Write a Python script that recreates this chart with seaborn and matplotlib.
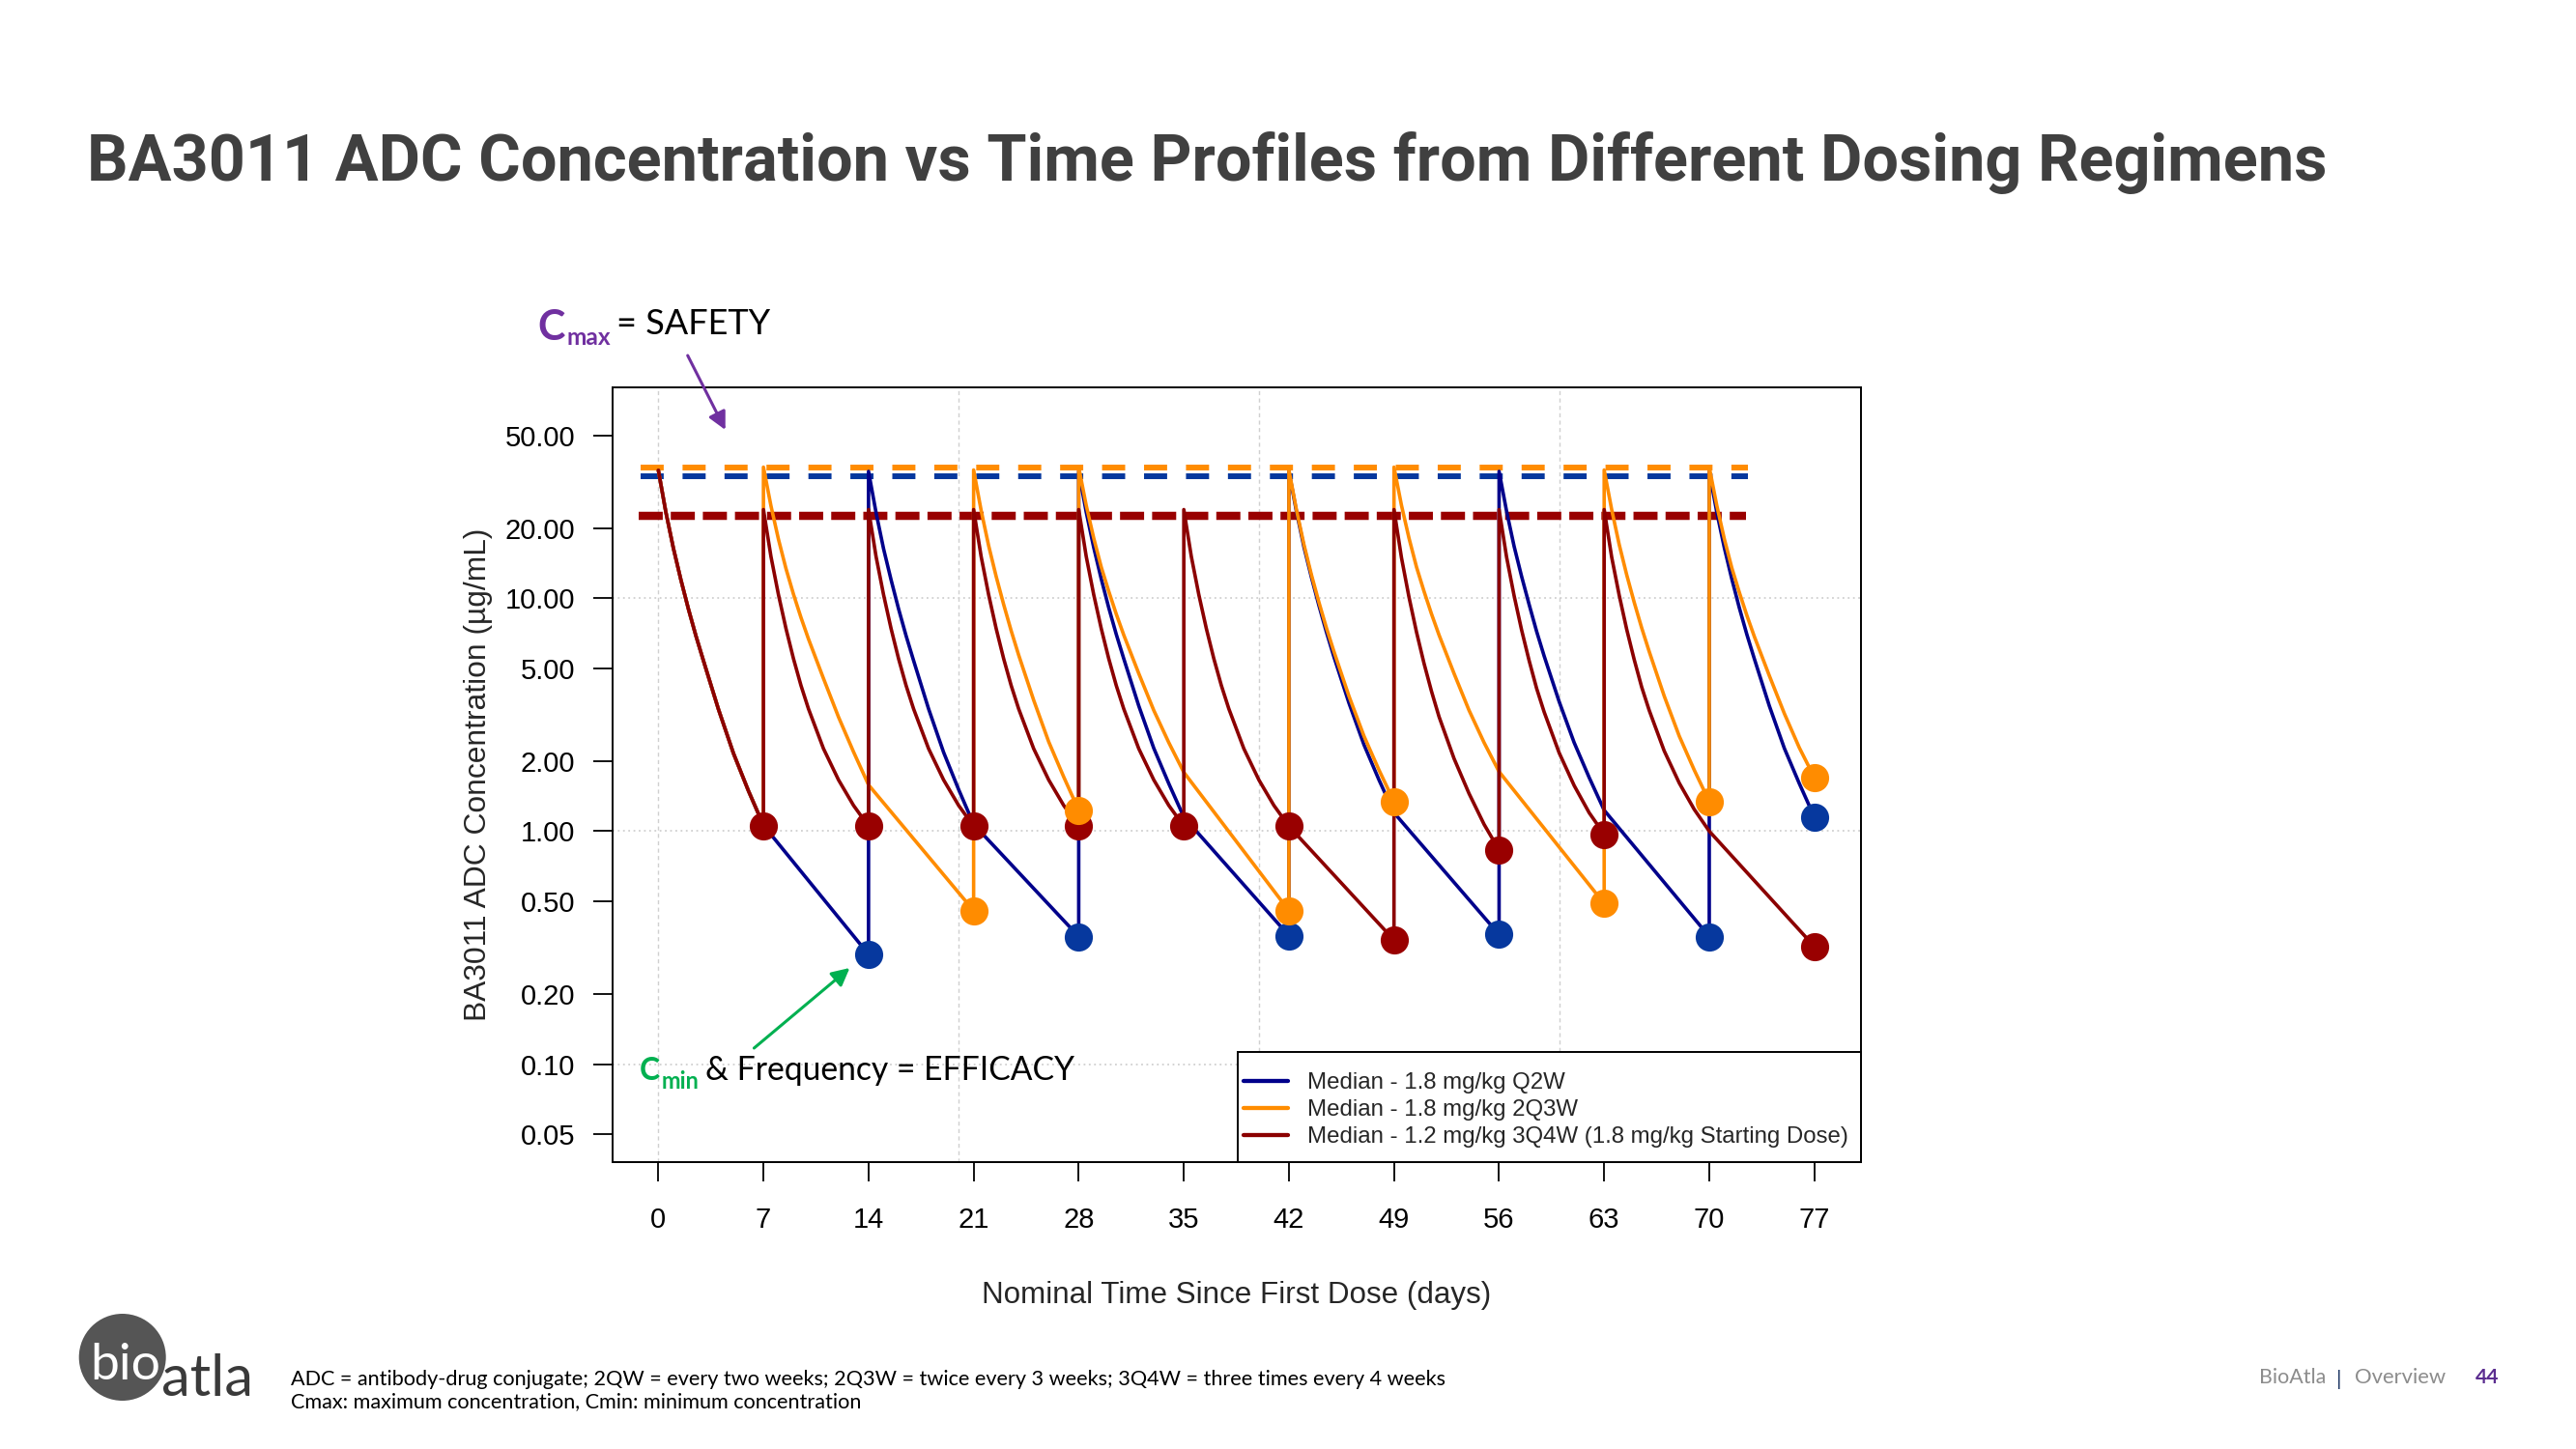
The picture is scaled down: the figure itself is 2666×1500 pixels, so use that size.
import matplotlib
matplotlib.use("Agg")
import matplotlib.pyplot as plt
import seaborn as sns
import pandas as pd
from matplotlib.lines import Line2D
from matplotlib.patches import Rectangle, Circle, FancyArrowPatch
from matplotlib.ticker import FixedLocator, FixedFormatter, NullLocator

# ---------------- data ----------------
q2w_day = [0, 0.5, 1, 1.5, 2, 2.5, 3, 4, 5, 6, 7,
           14,
           14, 14.5, 15, 15.5, 16, 16.5, 17, 18, 19, 20, 21,
           28,
           28, 28.5, 29, 29.5, 30, 30.5, 31, 32, 33, 34, 35,
           42,
           42, 42.5, 43, 43.5, 44, 44.5, 45, 46, 47, 48, 49,
           56,
           56, 56.5, 57, 57.5, 58, 58.5, 59, 60, 61, 62, 63,
           70,
           70, 70.5, 71, 71.5, 72, 72.5, 73, 74, 75, 76, 77]
q2w_conc = [35.4, 23.4, 16.4, 12.0, 9.0, 6.9, 5.4, 3.34, 2.16, 1.49, 1.06,
            0.296,
            35, 23.3, 16.3, 12.0, 9.0, 6.9, 5.4, 3.35, 2.18, 1.51, 1.07,
            0.353,
            35, 23.4, 16.5, 12.1, 9.1, 7.0, 5.5, 3.45, 2.27, 1.6, 1.15,
            0.356,
            35, 23.6, 16.6, 12.3, 9.3, 7.15, 5.6, 3.55, 2.35, 1.66, 1.2,
            0.36,
            35, 23.6, 16.7, 12.4, 9.4, 7.2, 5.65, 3.6, 2.4, 1.7, 1.23,
            0.353,
            35, 23.4, 16.5, 12.1, 9.1, 7.0, 5.5, 3.45, 2.27, 1.6, 1.15]
q2w_trough_day = [14, 28, 42, 56, 70, 77]
q2w_trough_conc = [0.296, 0.353, 0.356, 0.36, 0.353, 1.15]

q2q3w_day = [0, 0.5, 1, 1.5, 2, 2.5, 3, 4, 5, 6, 7,
             7, 7.5, 8, 8.5, 9, 9.5, 10, 11, 12, 13, 14,
             21,
             21, 21.5, 22, 22.5, 23, 23.5, 24, 25, 26, 27, 28,
             28, 28.5, 29, 29.5, 30, 30.5, 31, 32, 33, 34, 35,
             42,
             42, 42.5, 43, 43.5, 44, 44.5, 45, 46, 47, 48, 49,
             49, 49.5, 50, 50.5, 51, 51.5, 52, 53, 54, 55, 56,
             63,
             63, 63.5, 64, 64.5, 65, 65.5, 66, 67, 68, 69, 70,
             70, 70.5, 71, 71.5, 72, 72.5, 73, 74, 75, 76, 77]
q2q3w_conc = [35.4, 23.4, 16.4, 12.0, 9.0, 6.9, 5.4, 3.34, 2.16, 1.49, 1.06,
              36.5, 24.9, 17.9, 13.4, 10.4, 8.26, 6.68, 4.52, 3.09, 2.19, 1.58,
              0.456,
              35.5, 23.8, 16.8, 12.4, 9.4, 7.25, 5.7, 3.65, 2.42, 1.71, 1.23,
              36.5, 25.0, 18.1, 13.6, 10.7, 8.55, 6.95, 4.75, 3.3, 2.4, 1.79,
              0.456,
              35.5, 24.0, 17.0, 12.6, 9.6, 7.45, 5.9, 3.8, 2.56, 1.83, 1.34,
              36.5, 25.0, 18.1, 13.6, 10.7, 8.55, 6.95, 4.75, 3.3, 2.4, 1.8,
              0.489,
              35.5, 24.0, 17.0, 12.6, 9.6, 7.45, 5.9, 3.8, 2.56, 1.83, 1.34,
              36.5, 25.0, 18.0, 13.5, 10.6, 8.45, 6.85, 4.65, 3.2, 2.28, 1.70]
q2q3w_trough_day = [21, 28, 42, 49, 63, 70, 77]
q2q3w_trough_conc = [0.456, 1.23, 0.456, 1.34, 0.489, 1.34, 1.70]

q3q4w_day = [0, 0.5, 1, 1.5, 2, 2.5, 3, 4, 5, 6, 7,
             7, 7.5, 8, 8.5, 9, 9.5, 10, 11, 12, 13, 14,
             14, 14.5, 15, 15.5, 16, 16.5, 17, 18, 19, 20, 21,
             21, 21.5, 22, 22.5, 23, 23.5, 24, 25, 26, 27, 28,
             28, 28.5, 29, 29.5, 30, 30.5, 31, 32, 33, 34, 35,
             35, 35.5, 36, 36.5, 37, 37.5, 38, 39, 40, 41, 42,
             49,
             49, 49.5, 50, 50.5, 51, 51.5, 52, 53, 54, 55, 56,
             56, 56.5, 57, 57.5, 58, 58.5, 59, 60, 61, 62, 63,
             63, 63.5, 64, 64.5, 65, 65.5, 66, 67, 68, 69, 70,
             77]
q3q4w_conc = [35.4, 23.4, 16.4, 12.0, 9.0, 6.9, 5.4, 3.34, 2.16, 1.49, 1.06,
              24, 15.1, 10.35, 7.41, 5.5, 4.22, 3.35, 2.26, 1.66, 1.29, 1.05,
              24, 15.1, 10.35, 7.41, 5.5, 4.22, 3.35, 2.26, 1.66, 1.29, 1.05,
              24, 15.1, 10.35, 7.41, 5.5, 4.22, 3.35, 2.26, 1.66, 1.29, 1.05,
              24, 15.1, 10.35, 7.41, 5.5, 4.22, 3.35, 2.26, 1.66, 1.29, 1.05,
              24, 15.1, 10.35, 7.41, 5.5, 4.22, 3.35, 2.26, 1.66, 1.29, 1.05,
              0.341,
              24, 14.9, 10.1, 7.15, 5.25, 3.98, 3.1, 2.05, 1.45, 1.07, 0.83,
              24, 15.0, 10.25, 7.3, 5.4, 4.1, 3.25, 2.17, 1.57, 1.2, 0.97,
              24, 15.0, 10.3, 7.35, 5.45, 4.15, 3.3, 2.21, 1.61, 1.24, 1.0,
              0.32]
q3q4w_trough_day = [7, 14, 21, 28, 35, 42, 49, 56, 63, 77]
q3q4w_trough_conc = [1.05, 1.05, 1.05, 1.05, 1.05, 1.05, 0.341, 0.83, 0.97, 0.32]

cmax_labels = ["Q2W", "2Q3W", "3Q4W"]
cmax_values = [33.3, 36.3, 22.5]

legend_labels = ["Median - 1.8 mg/kg Q2W",
                 "Median - 1.8 mg/kg 2Q3W",
                 "Median - 1.2 mg/kg 3Q4W (1.8 mg/kg Starting Dose)"]
x_ticks = [0, 7, 14, 21, 28, 35, 42, 49, 56, 63, 70, 77]
y_ticks = [0.05, 0.10, 0.20, 0.50, 1.00, 2.00, 5.00, 10.00, 20.00, 50.00]
y_tick_labels = ["0.05", "0.10", "0.20", "0.50", "1.00", "2.00", "5.00", "10.00", "20.00", "50.00"]

# ---------------- styling ----------------
BLUE_LINE, BLUE_PT = "#00008B", "#06389E"
ORANGE = "#FF8C00"
RED_LINE, RED_PT = "#8B0000", "#990000"
PURPLE, GREEN = "#7030A0", "#00B050"

W, H = 2666, 1500
sns.set_style("white")
plt.rcParams["font.family"] = ["Liberation Sans", "DejaVu Sans"]

fig = plt.figure(figsize=(W / 100, H / 100), dpi=100)
fig.patch.set_facecolor("white")
R = fig.canvas.get_renderer()


def fx(x):
    return x / W


def fy(y):
    return 1 - y / H


def put(x, y, s, size, width=None, **kw):
    t = fig.text(fx(x), fy(y), s, fontsize=size, ha="left", va="baseline", **kw)
    if width:
        w = t.get_window_extent(R).width
        t.set_fontsize(size * width / w)
    return t


ax_l, ax_r, ax_t, ax_b = 633.5, 1925.6, 401, 1203
ax = fig.add_axes([fx(ax_l), fy(ax_b), (ax_r - ax_l) / W, (ax_b - ax_t) / H])
ax.set_yscale("log")
ax.set_xlim(-3.08, 80.08)
ax.set_ylim(0.0380, 80.3)

# grid
for gx in [0, 20, 40, 60]:
    ax.axvline(gx, color="#D0D0D0", lw=1.0, ls=(0, (3, 2.5)), zorder=0.5)
for gy in [0.1, 1, 10]:
    ax.axhline(gy, color="#D0D0D0", lw=1.3, ls=(0, (1, 2)), zorder=0.5)

# Cmax reference dashed lines
ax.hlines(cmax_values[1], -1.2, 72.6, color=ORANGE, lw=4.3, linestyles=[(0, (4.0, 3.27))], zorder=1.5)
ax.hlines(cmax_values[0], -1.2, 72.6, color=BLUE_PT, lw=4.3, linestyles=[(0, (4.0, 3.27))], zorder=1.5)
ax.hlines(cmax_values[2], -1.3, 72.45, color=RED_PT, lw=6.1, linestyles=[(0, (2.94, 0.98))], zorder=1.5)

# profiles
series = [
    (q2w_day, q2w_conc, BLUE_LINE),
    (q2q3w_day, q2q3w_conc, ORANGE),
    (q3q4w_day, q3q4w_conc, RED_LINE),
]
for i, (d, c, col) in enumerate(series):
    df = pd.DataFrame({"day": d, "conc": c})
    sns.lineplot(data=df, x="day", y="conc", sort=False, estimator=None,
                 color=col, linewidth=2.6, ax=ax, legend=False, zorder=3 + i * 0.1)

points = [
    (q2w_trough_day, q2w_trough_conc, BLUE_PT),
    (q3q4w_trough_day, q3q4w_trough_conc, RED_PT),
    (q2q3w_trough_day, q2q3w_trough_conc, ORANGE),
]
for i, (d, c, col) in enumerate(points):
    sns.scatterplot(x=d, y=c, color=col, s=440, linewidth=0, ax=ax, zorder=5 + i * 0.1, legend=False)

# axes
ax.xaxis.set_major_locator(FixedLocator(x_ticks))
ax.yaxis.set_major_locator(FixedLocator(y_ticks))
ax.yaxis.set_major_formatter(FixedFormatter(y_tick_labels))
ax.yaxis.set_minor_locator(NullLocator())
ax.tick_params(axis="both", direction="out", length=14.4, width=1.3, labelsize=21,
               colors="black", left=True, bottom=True)
ax.tick_params(axis="y", pad=13)
ax.tick_params(axis="x", pad=19)
for sp in ax.spines.values():
    sp.set_visible(True)
    sp.set_color("black")
    sp.set_linewidth(1.4)

ax.set_xlabel("Nominal Time Since First Dose (days)", fontsize=21.5, va="center")
ax.xaxis.set_label_coords(0.5, (ax_b - 1341) / (ax_b - ax_t))
ax.set_ylabel("BA3011 ADC Concentration (\u00b5g/mL)", fontsize=21.5, va="center")
ax.yaxis.set_label_coords((495 - ax_l) / (ax_r - ax_l), 0.5)
xl = ax.xaxis.label
xl.set_fontsize(21.5 * 527 / xl.get_window_extent(R).width)
yl = ax.yaxis.label
yl.set_fontsize(21.5 * 510 / yl.get_window_extent(R).height)

# legend with a square white box
handles = [Line2D([], [], color=c, lw=3.1) for c in [BLUE_LINE, ORANGE, RED_LINE]]
leg = ax.legend(handles, legend_labels, loc="upper left",
                bbox_to_anchor=(fx(1287), fy(1110)), bbox_transform=fig.transFigure,
                frameon=False, borderpad=0, borderaxespad=0, handlelength=1.9,
                handletextpad=0.85, labelspacing=0.25, fontsize=17.3)
leg.set_zorder(10)
ax.add_patch(Rectangle((fx(1281), fy(ax_b)), (ax_r - 1281) / W, (ax_b - 1089) / H,
                       transform=fig.transFigure, facecolor="white", edgecolor="black",
                       lw=1.4, zorder=9, clip_on=False))

# ---------------- slide texts ----------------
put(90, 187, "BA3011 ADC Concentration vs Time Profiles from Different Dosing Regimens",
    50, width=2318, family="Roboto", weight="bold", color="#404040")


def sub_label(x, base, csize, sub, sub_base, sub_end, rest, rest_x, rest_w, color):
    c = put(x, base, "C", csize, family="Lato", weight="bold", color=color)
    right = c.get_window_extent(R).x1 + 1.5
    put(right, sub_base, sub, 20, width=sub_end - right, family="Lato", weight="bold", color=color)
    put(rest_x, base - 6 if sub == "max" else base, rest, 20, width=rest_w, family="Lato", color="black")


# Cmax annotation
sub_label(556.7, 351.7, 31.0, "max", 357, 632, "= SAFETY", 638, 159, PURPLE)
# Cmin annotation
sub_label(661.5, 1118.3, 23.0, "min", 1126.7, 723, "& Frequency = EFFICACY", 730.4, 382.6, GREEN)


def arrow(p0, p1, color):
    a = FancyArrowPatch((fx(p0[0]), fy(p0[1])), (fx(p1[0]), fy(p1[1])),
                        transform=fig.transFigure,
                        arrowstyle="-|>,head_length=0.55,head_width=0.28",
                        mutation_scale=20, color=color, lw=2.2,
                        shrinkA=0, shrinkB=0, zorder=20)
    fig.add_artist(a)


arrow((711.7, 368), (750.7, 445), PURPLE)
arrow((780.4, 1085), (879.4, 1002), GREEN)

# footnotes
f1 = put(301, 1434.3,
         "ADC = antibody-drug conjugate; 2QW = every two weeks; 2Q3W = twice every 3 weeks; 3Q4W = three times every 4 weeks",
         13, width=1192, family="Lato", color="black")
put(301, 1457.3, "Cmax: maximum concentration, Cmin: minimum concentration",
    f1.get_fontsize(), family="Lato", color="black")

# logo
fig.add_artist(Circle((126.7 / 100, (H - 1405) / 100), 0.45, transform=fig.dpi_scale_trans,
                      facecolor="#555555", edgecolor="none"))
put(93.5, 1428, "bio", 30, width=73, family="Lato", color="white")
put(166.6, 1445, "atla", 34, width=95, family="Lato", color="#3A3A3A")

# page footer
put(2338, 1431.7, "BioAtla", 15, width=69, family="Lato", color="#8C8C8C")
put(2418.5, 1434, "|", 16, family="Lato", color="#1F3864")
put(2436.7, 1431.7, "Overview", 15, width=94, family="Lato", color="#8C8C8C")
put(2561.7, 1431.7, "44", 15, width=24.3, family="Lato", weight="bold", color="#5B2D90")

fig.savefig("out.png", dpi=100, facecolor="white")
